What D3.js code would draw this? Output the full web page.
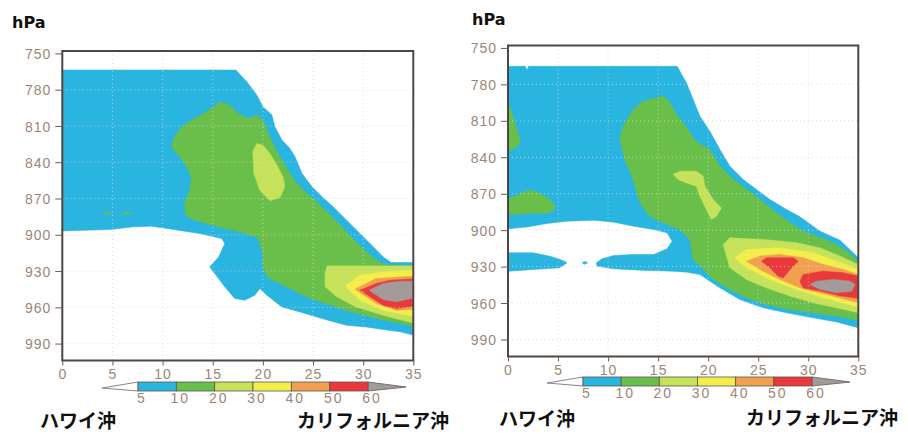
<!DOCTYPE html>
<html>
<head>
<meta charset="utf-8">
<script src="https://cdn.jsdelivr.net/npm/d3@7"></script>
<style>
  body { margin: 0; background: #fff; }
  svg text { font-family: "Liberation Sans", Arial, sans-serif; }
</style>
</head>
<body>
<script>
// contour levels and their fill colours
var levels = [5, 10, 20, 30, 40, 50, 60];
var levelColors = ["#2ab4e0", "#6abf4b", "#c6e25a", "#f4ee4c", "#f0a04e", "#e8393c", "#a39b99"];

var xTicks = [0, 5, 10, 15, 20, 25, 30, 35];
var pTicks = [750, 780, 810, 840, 870, 900, 930, 960, 990];

// outlines, [distance, hPa]
// left panel
var leftL5 = [[0,763.8],[17.3,763.8],[18.4,773.4],[19.4,784.5],[20.0,794.1],[20.9,801],[21.2,810.7],[21.9,821.7],[22.7,828.6],[23.2,835.5],[23.9,849.3],[24.9,860.3],[25.9,868.6],[27.0,876.9],[28.0,885.2],[29.0,893.4],[30.0,901.7],[31.0,910],[32.0,918.3],[32.8,923],[35,923],[35,983],[33.7,980.3],[32.5,979],[30.3,976.2],[28.3,974.8],[25.9,969.3],[23.7,963.8],[21.9,959.7],[20.4,950],[19.7,944.5],[19.2,950],[18.2,954.1],[17.2,952.8],[16.2,943.1],[15.2,932.1],[14.7,926.6],[15.6,918.3],[16.2,907.2],[15.9,903.1],[13.7,899],[11.1,895.6],[8.9,892.9],[7.1,893.4],[4.8,895.6],[0,896.8]];
var leftL10 = [[15.7,790],[16.7,792.8],[17.5,799.7],[18.5,803.8],[19.5,801],[20.2,807.9],[20.5,816.2],[21.0,824.5],[21.5,832.8],[22.2,842.4],[23.0,853.4],[24.0,863.1],[25.2,871.4],[26.2,879.7],[27.4,889.3],[28.3,897.6],[29.3,905.9],[30.3,914.1],[31.3,921],[32.3,925],[35,925.5],[35,975.6],[32.5,971.2],[30.5,967.4],[28.5,963],[26.5,957.4],[24.5,951.9],[22.5,943.7],[20.5,935.4],[20.0,926.6],[20.0,915.5],[19.5,902.3],[17.9,898.1],[15.2,892.6],[13.2,887.9],[12.3,883.8],[12.2,874.1],[12.7,863.1],[12.9,853.4],[12.4,843.8],[11.7,835.5],[10.9,827.2],[11.2,819],[11.9,810.7],[12.9,805.2],[14.1,799.7],[15.1,794.1]];
var leftSpecks = [[[4.1,881.6],[4.8,881.6],[4.8,882.8],[4.1,882.8]], [[6.1,881.6],[6.8,881.6],[6.8,882.8],[6.1,882.8]]];
var leftL20 = [[26.4,925.8],[35,925.8],[35,972.9],[32.0,966.6],[29.3,959.7],[27.4,951.4],[26.2,943.1],[26.2,932.1]];
var leftL20b = [[19.4,824.5],[19.0,831.4],[19.1,849.3],[19.7,863.1],[20.7,871.9],[21.7,869.2],[22.2,860.3],[22.0,852.1],[21.4,842.4],[20.7,832.8],[20.0,825.9]];
var leftL30 = [[28.2,942.3],[29.7,933.4],[32.0,930.7],[35,929.3],[35,967.4],[32.0,962.4],[29.7,954.1]];
var leftL40 = [[29.2,945],[31.3,936.2],[35,934.3],[35,961.9],[33.3,962.5],[31.3,956.9]];
var leftL50 = [[29.7,945.9],[31.3,940.3],[32.7,937.6],[35,936.5],[35,959.1],[33.3,961],[32.0,958.3]];
var leftL60 = [[30.6,945.9],[32.0,940.3],[33.7,938.4],[35,938.4],[35,952.2],[33.3,955.5],[32.0,953.6]];

// right panel
var rightL5 = [[0,765.1],[1.73,765.1],[1.9,768.4],[2.07,765.1],[16.9,765.1],[17.83,778.8],[18.5,792.5],[19.17,806.2],[20.17,818.6],[21.17,833.7],[22.17,847.4],[23.5,858.3],[24.83,866.6],[26.17,874.8],[27.83,883],[29.17,889],[31.17,900.8],[33.17,908.3],[34.67,920],[35,922.8],[35,980.4],[32.83,975.5],[30.5,972.2],[27.83,968],[25.5,963.9],[23.17,957.1],[21.17,947.5],[19.17,936.5],[17.9,934.6],[16.57,933.8],[13.23,932.9],[10.57,931.8],[8.9,929.6],[8.83,926.9],[9.4,923.6],[10.57,920.9],[12.57,920.0],[14.57,920.0],[15.9,915.4],[16.4,909.1],[15.9,902.2],[14.57,899.5],[12.57,896.7],[10.57,893.4],[8.57,891.8],[5.9,892.6],[3.9,894.5],[1.9,897.3],[0,898.9]];
var rightL5strip = [[0,918.7],[2.5,918.7],[4.17,921.4],[5.23,924.2],[5.9,926.9],[5.17,931],[2.5,932.4],[0,933.8]];
var rightL5dot = [[7.4,926.9],[7.67,925.7],[7.95,926.9],[7.67,928.1]];
var rightL10 = [[15.5,789.8],[16.07,793.9],[16.83,805],[17.8,815],[18.83,827.6],[20.17,833.7],[21.17,847.4],[22.5,858.3],[23.83,866.6],[25.17,874.8],[26.83,885.8],[28.17,894],[29.17,899.5],[30.5,904],[32.17,909.1],[33.83,917.3],[35,926],[35,974.1],[32.83,970.8],[30.5,968],[28.17,965.3],[25.83,961.2],[23.83,955.7],[22.17,948.8],[20.5,940.6],[19.23,929.6],[18.5,924.2],[18.17,907.7],[17.17,899.5],[15.5,894],[14.17,888.5],[13.17,877.5],[12.5,858.3],[11.67,841.9],[11.17,825.4],[11.5,814.5],[12.5,800.7],[13.5,793.9]];
var rightL10sliver = [[0,795.3],[0.4,803.5],[0.83,815.8],[1.23,826.8],[0.9,831.5],[0.3,833.7],[0,834.2]];
var rightL10blob = [[0,874.8],[0.73,872.1],[1.4,868.8],[2.23,867.1],[3.07,869.3],[3.9,873.4],[4.57,878.1],[4.67,882.5],[4.07,885.8],[1.9,886.3],[0,887.1]];
var rightL20 = [[21.5,911.8],[22.17,906.3],[25.5,907.7],[28.83,910.4],[31.17,914.6],[33.17,921.4],[35,928.3],[35,968],[32.83,963.9],[30.5,959.8],[28.17,954.3],[25.83,947.5],[23.83,940.6],[22.17,931]];
var rightL20b = [[16.5,854.2],[17.17,851.5],[18.83,851.5],[19.5,855.6],[19.67,863.8],[20.5,874.8],[21.33,881.7],[20.83,888.5],[20.33,891.2],[19.83,883],[19.17,872.1],[18.83,863.8],[17.83,861.1],[17.0,858.3]];
var rightL30 = [[22.67,922.8],[23.83,915.9],[27.17,914.6],[30.5,918.7],[32.83,925.5],[35,932.4],[35,963.1],[31.5,955.7],[28.83,948.8],[26.17,940.6],[23.83,931]];
var rightL40 = [[23.83,925.5],[25.17,921.4],[27.17,920],[29.5,922.8],[31.5,928.3],[33.5,932.4],[35,936.5],[35,959.8],[31.83,953],[29.5,948.5],[27.17,940.6],[25.5,933.8]];
var rightL50a = [[25.33,925.5],[25.83,922.8],[28.5,922.8],[29.0,925.5],[28.17,932.4],[27.5,939.2],[27.0,937.9],[26.17,931]];
var rightL50b = [[29.17,942],[29.5,936.5],[31.5,933.8],[33.5,935.1],[35,937.9],[35,956.2],[33.17,954],[31.17,950],[29.5,947.5]];
var rightL60 = [[30.17,944.7],[30.83,942],[32.5,940.6],[34.17,942],[34.67,944.7],[34.33,950.2],[32.83,951.6],[31.17,948.8]];

var svg = d3.select("body").append("svg")
  .attr("width", 908)
  .attr("height", 437);

var panels = [
  {
    id: "l",
    xr: [62.3, 413.3], yr: [51, 360.5],
    hpa: [12, 28],
    legend: { x: [138, 368], y: 382 },
    names: [[40, 428], [297, 428]],
    shapes: [
      [0, [leftL5]],
      [1, [leftL10].concat(leftSpecks)],
      [2, [leftL20, leftL20b]],
      [3, [leftL30]],
      [4, [leftL40]],
      [5, [leftL50]],
      [6, [leftL60]]
    ]
  },
  {
    id: "r",
    xr: [508, 858.3], yr: [45.5, 356.5],
    hpa: [472, 25],
    legend: { x: [583, 812], y: 377 },
    names: [[499, 426], [746, 425]],
    shapes: [
      [0, [rightL5, rightL5strip, rightL5dot]],
      [1, [rightL10, rightL10sliver, rightL10blob]],
      [2, [rightL20, rightL20b]],
      [3, [rightL30]],
      [4, [rightL40]],
      [5, [rightL50a, rightL50b]],
      [6, [rightL60]]
    ]
  }
];

panels.forEach(function(pn) {
  var x = d3.scaleLinear().domain([0, 35]).range(pn.xr);
  var y = d3.scaleLinear().domain([748, 1004]).range(pn.yr);

  var line = d3.line()
    .x(function(d) { return x(d[0]); })
    .y(function(d) { return y(d[1]); })
    .curve(d3.curveLinearClosed);

  svg.append("clipPath").attr("id", "clip-" + pn.id)
    .append("rect")
      .attr("x", pn.xr[0]).attr("y", pn.yr[0])
      .attr("width", pn.xr[1] - pn.xr[0]).attr("height", pn.yr[1] - pn.yr[0]);

  var g = svg.append("g").attr("clip-path", "url(#clip-" + pn.id + ")");

  // filled contours, lowest level first
  g.selectAll("path.band")
    .data(pn.shapes)
    .enter().append("path")
      .attr("class", "band")
      .attr("d", function(d) { return d[1].map(line).join(""); })
      .style("fill", function(d) { return levelColors[d[0]]; })
      .style("stroke", function(d) { return levelColors[d[0]]; })
      .style("stroke-width", 0.6);

  // dotted grid
  g.selectAll("line.vg")
    .data(xTicks.slice(1, -1))
    .enter().append("line")
      .attr("x1", x).attr("x2", x)
      .attr("y1", pn.yr[0]).attr("y2", pn.yr[1])
      .style("stroke", "#d8d8d8")
      .style("stroke-opacity", 0.8)
      .style("stroke-dasharray", "1,3");

  g.selectAll("line.hg")
    .data(pTicks.slice(1))
    .enter().append("line")
      .attr("y1", y).attr("y2", y)
      .attr("x1", pn.xr[0]).attr("x2", pn.xr[1])
      .style("stroke", "#d8d8d8")
      .style("stroke-opacity", 0.8)
      .style("stroke-dasharray", "1,3");

  // frame
  svg.append("rect")
    .attr("x", pn.xr[0]).attr("y", pn.yr[0])
    .attr("width", pn.xr[1] - pn.xr[0]).attr("height", pn.yr[1] - pn.yr[0])
    .style("fill", "none")
    .style("stroke", "#4e4642")
    .style("stroke-width", 2);

  var yAxis = svg.append("g")
    .attr("transform", "translate(" + pn.xr[0] + ",0)")
    .call(d3.axisLeft(y).tickValues(pTicks).tickSize(7).tickPadding(4));

  var xAxis = svg.append("g")
    .attr("transform", "translate(0," + pn.yr[1] + ")")
    .call(d3.axisBottom(x).tickValues(xTicks).tickSize(5).tickPadding(4));

  [yAxis, xAxis].forEach(function(ax) {
    ax.select(".domain").remove();
    ax.selectAll(".tick line").style("stroke", "#6b5c52");
    ax.selectAll(".tick text")
      .style("font-size", "14px")
      .style("letter-spacing", "1px")
      .style("fill", "#9c8676");
  });
  yAxis.selectAll(".tick text").attr("dy", "0.36em");

  svg.append("text")
    .attr("x", pn.hpa[0]).attr("y", pn.hpa[1])
    .style("font-family", "'DejaVu Sans', sans-serif")
    .style("font-weight", "bold")
    .style("font-size", "16px")
    .style("fill", "#111")
    .text("hPa");

  // colour bar
  var lx = d3.scaleLinear().domain([0, levels.length - 1]).range(pn.legend.x);
  var lt = pn.legend.y, lb = lt + 9, lm = lt + 5;
  var leg = svg.append("g");

  leg.append("path")
    .attr("d", "M" + lx(0) + "," + lt + "L" + (lx(0) - 36) + "," + (lm + 1) + "L" + lx(0) + "," + lb + "Z")
    .style("fill", "#fff")
    .style("stroke", "#8a8482")
    .style("stroke-width", 1);

  leg.append("path")
    .attr("d", "M" + lx(6) + "," + lt + "L" + (lx(6) + 38) + "," + lm + "L" + lx(6) + "," + lb + "Z")
    .style("fill", levelColors[6])
    .style("stroke", "#77706e")
    .style("stroke-width", 1);

  leg.selectAll("rect")
    .data(d3.range(levels.length - 1))
    .enter().append("rect")
      .attr("x", function(i) { return lx(i); })
      .attr("y", lt)
      .attr("width", function(i) { return lx(i + 1) - lx(i); })
      .attr("height", lb - lt)
      .style("fill", function(i) { return levelColors[i]; })
      .style("stroke", "#5a5552")
      .style("stroke-width", 0.8);

  leg.selectAll("text")
    .data(levels)
    .enter().append("text")
      .attr("x", function(d, i) { return lx(i) + 4; })
      .attr("y", lb + 12)
      .attr("text-anchor", "middle")
      .style("font-size", "14px")
      .style("letter-spacing", "2px")
      .style("fill", "#9c8676")
      .text(function(d) { return d; });

  svg.selectAll("text.name-" + pn.id)
    .data(["ハワイ沖", "カリフォルニア沖"])
    .enter().append("text")
      .attr("class", "name-" + pn.id)
      .attr("x", function(d, i) { return pn.names[i][0]; })
      .attr("y", function(d, i) { return pn.names[i][1]; })
      .style("font-family", "'Noto Sans CJK JP', sans-serif")
      .style("font-weight", "bold")
      .style("font-size", "19px")
      .style("fill", "#111")
      .text(function(d) { return d; });
});
</script>
</body>
</html>
